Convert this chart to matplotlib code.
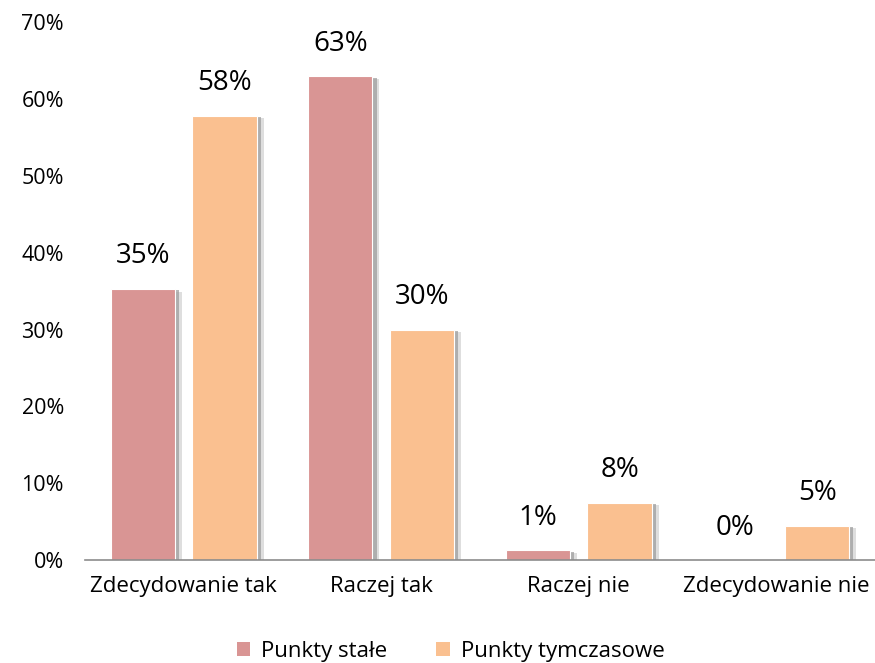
import matplotlib.pyplot as plt
import matplotlib.patheffects as pe
from matplotlib.patches import Patch
import numpy as np

categories = ['Zdecydowanie tak', 'Raczej tak', 'Raczej nie', 'Zdecydowanie nie']
stale = [35.3, 62.9, 1.3, 0.0]
tymczasowe = [57.8, 30.0, 7.5, 4.5]
series_names = ['Punkty stałe', 'Punkty tymczasowe']
colors = ['#d99594', '#fac090']

plt.rcParams['font.family'] = ['Open Sans', 'DejaVu Sans']

fig = plt.figure(figsize=(8.75, 6.63), dpi=100)
ax = fig.add_axes([0.097, 0.155, 0.903, 0.812])

x = np.arange(len(categories))
w = 0.325
off = 0.207
# soft grey shadow to the right of every bar
shadow = [pe.SimplePatchShadow(offset=(5, -2), shadow_rgbFace='#c8c8c8', alpha=0.6),
          pe.SimplePatchShadow(offset=(3, -1), shadow_rgbFace='#9a9a9a', alpha=0.7),
          pe.Normal()]

for vals, dx, c in [(stale, -off, colors[0]), (tymczasowe, off, colors[1])]:
    bars = ax.bar(x + dx, vals, w, color=c, edgecolor='white', linewidth=0.8)
    for b, v in zip(bars, vals):
        if v > 0:
            b.set_path_effects(shadow)
        ax.text(b.get_x() + b.get_width() / 2, v + 2.4, f'{int(np.floor(v + 0.5))}%',
                ha='center', va='bottom', fontsize=20)

ax.set_xlim(-0.5, 3.5)
ax.set_ylim(0, 70)
ax.set_yticks(range(0, 71, 10))
ax.set_yticklabels([f'{t}%' for t in range(0, 71, 10)], fontsize=15.5)
ax.set_xticks(x)
ax.set_xticklabels(categories, fontsize=16)
ax.tick_params(length=0)
ax.tick_params(axis='y', pad=15)
ax.tick_params(axis='x', pad=11)
for s in ['top', 'right', 'left']:
    ax.spines[s].set_visible(False)
ax.spines['bottom'].set_color('#8c8c8c')
ax.spines['bottom'].set_linewidth(1.2)

handles = [Patch(facecolor=c) for c in colors]
fig.legend(handles, series_names, loc='center', bbox_to_anchor=(0.515, 0.018),
           ncol=2, frameon=False, fontsize=16, handlelength=0.6, handleheight=0.6,
           columnspacing=2.2, handletextpad=0.5)

fig.savefig('out.png', dpi=100)
